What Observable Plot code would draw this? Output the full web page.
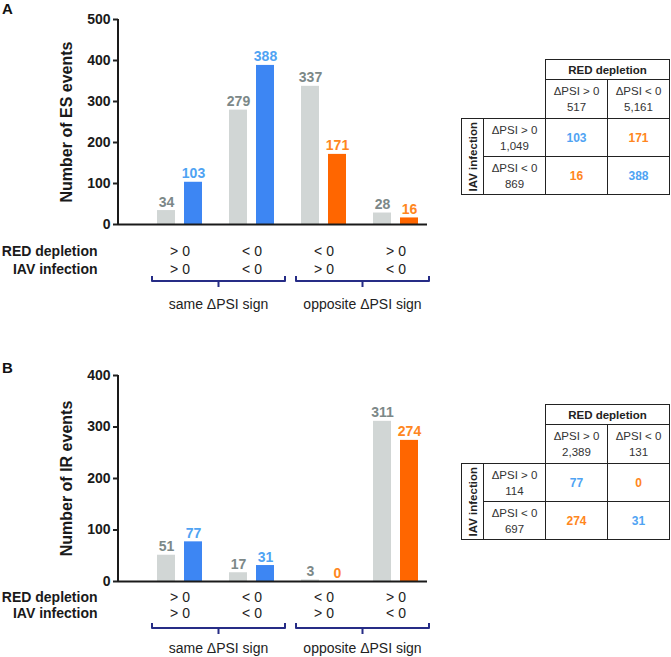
<!DOCTYPE html>
<html><head><meta charset="utf-8">
<script src="https://cdn.jsdelivr.net/npm/d3@7"></script>
<script src="https://cdn.jsdelivr.net/npm/@observablehq/plot@0.6"></script>
<style>
body{margin:0;background:#fff;font-family:"Liberation Sans",Arial,Helvetica,sans-serif;}
#root{position:relative;width:671px;height:657px;overflow:hidden;background:#fff;}
.panel{position:absolute;left:0;}
.letter{position:absolute;font-weight:bold;font-size:15px;color:#111;line-height:1;}
.pl [aria-label^="y-axis"] line,.pl [aria-label^="y-axis"] path{stroke-width:2px;stroke:#222;}
table.ct{position:absolute;border-collapse:collapse;table-layout:fixed;font-size:11.5px;color:#333;}
table.ct td{border:1.5px solid #222;text-align:center;vertical-align:middle;padding:0;line-height:16px;}
table.ct td.blank{border:none;}
table.ct td.hd{font-weight:bold;font-size:11.5px;color:#222;}
table.ct td.val{font-weight:bold;font-size:12px;}
table.ct td.vert div{writing-mode:vertical-rl;transform:rotate(180deg);font-weight:bold;font-size:11.5px;color:#222;margin:auto;white-space:nowrap;}
</style></head>
<body><div id="root"></div>
<script>
// ---- data ----
const groups = ["g1", "g2", "g3", "g4"];
const redSign = ["> 0", "< 0", "< 0", "> 0"];
const iavSign = ["> 0", "< 0", "> 0", "< 0"];
const rowLabels = ["RED depletion", "IAV infection"];
const braceLabels = ["same \u0394PSI sign", "opposite \u0394PSI sign"];
// Panel A (ES events)
const esGray = [34, 279, 337, 28];
const esOverlap = [103, 388, 171, 16];
const esRedTotals = ["517", "5,161"];
const esIavTotals = ["1,049", "869"];
// Panel B (IR events)
const irGray = [51, 17, 3, 311];
const irOverlap = [77, 31, 0, 274];
const irRedTotals = ["2,389", "131"];
const irIavTotals = ["114", "697"];
const signs = ["> 0", "< 0"];

const C = {gray: "#d1d6d5", grayText: "#7c8888", blue: "#3d86f3", blueText: "#4fa3f3", orange: "#ff6600", orangeText: "#ff8620", navy: "#262c86"};
const FONT = '"Liberation Sans", Arial, Helvetica, sans-serif';
const root = document.getElementById("root");

function makePanel(o) {
  const data = groups.map((g, i) => ({g, gray: o.gray[i], ov: o.overlap[i], same: redSign[i] === iavSign[i], red: redSign[i], iav: iavSign[i]}));
  const W = 440;
  const chart = Plot.plot({
    width: W, height: o.H,
    marginLeft: 118, marginRight: W - 427, marginTop: o.marginTop, marginBottom: o.H - o.baseline,
    className: "pl",
    x: {domain: groups, axis: null, paddingInner: 0.378, paddingOuter: 0.326, align: 0.81},
    y: {domain: [0, o.yMax], ticks: o.yMax / 100, tickSize: 5, tickPadding: 3, label: null},
    style: {fontFamily: FONT, fontSize: "14px", fontWeight: "bold", color: "#1a1a1a", background: "transparent", overflow: "visible"},
    marks: [
      Plot.barY(data, {x: "g", y: "gray", fill: C.gray, insetRight: 27}),
      Plot.barY(data, {filter: d => d.same, x: "g", y: "ov", fill: C.blue, insetLeft: 27}),
      Plot.barY(data, {filter: d => !d.same, x: "g", y: "ov", fill: C.orange, insetLeft: 27}),
      Plot.ruleY([0], {stroke: "#1a1a1a", strokeWidth: 2}),
      Plot.text(data, {x: "g", y: "gray", text: d => String(d.gray), dx: -13.5, dy: -4, lineAnchor: "bottom", fill: C.grayText, fontWeight: "bold", fontSize: 14}),
      Plot.text(data, {filter: d => d.same, x: "g", y: "ov", text: d => String(d.ov), dx: 13.5, dy: -4, lineAnchor: "bottom", fill: C.blueText, fontWeight: "bold", fontSize: 14}),
      Plot.text(data, {filter: d => !d.same, x: "g", y: "ov", text: d => String(d.ov), dx: 13.5, dy: -4, lineAnchor: "bottom", fill: C.orangeText, fontWeight: "bold", fontSize: 14}),
      Plot.text(data, {x: "g", frameAnchor: "bottom", text: "red", dy: o.dy1, lineAnchor: "middle", fontWeight: "normal", fontSize: 14, fill: "#222"}),
      Plot.text(data, {x: "g", frameAnchor: "bottom", text: "iav", dy: o.dy2, lineAnchor: "middle", fontWeight: "normal", fontSize: 14, fill: "#222"}),
      Plot.text([rowLabels[0]], {frameAnchor: "bottom-left", textAnchor: "end", dx: -21, dy: o.dy1, lineAnchor: "middle", fontWeight: "bold", fontSize: 14, fill: "#1a1a1a"}),
      Plot.text([rowLabels[1]], {frameAnchor: "bottom-left", textAnchor: "end", dx: -21, dy: o.dy2, lineAnchor: "middle", fontWeight: "bold", fontSize: 14, fill: "#1a1a1a"}),
      Plot.text([o.yLabel], {frameAnchor: "left", textAnchor: "middle", lineAnchor: "middle", rotate: -90, dx: -52, fontWeight: "bold", fontSize: 16, fill: "#1a1a1a"})
    ]
  });
  const svgEl = chart.tagName.toLowerCase() === "svg" ? chart : chart.querySelector("svg");
  const svg = d3.select(svgEl);
  const sx = chart.scale("x"), sy = chart.scale("y");
  const bw = sx.bandwidth;
  const yApply = v => sy.apply(v);
  const xApply = v => sx.apply(v);
  // y axis line
  svg.append("line").attr("x1", sx.range[0]).attr("x2", sx.range[0])
    .attr("y1", yApply(0) + 1).attr("y2", yApply(o.yMax))
    .attr("stroke", "#1a1a1a").attr("stroke-width", 2);
  // braces
  const yb = o.baseline + o.dyBrace;
  [[0, 1], [2, 3]].forEach((pair, k) => {
    const left = xApply(groups[pair[0]]) - 5;
    const right = xApply(groups[pair[1]]) + bw + 11;
    const mid = (left + right) / 2;
    svg.append("path")
      .attr("d", `M${left},${yb - 5}L${left},${yb}L${right},${yb}L${right},${yb - 5}M${mid},${yb}L${mid},${yb + 6}`)
      .attr("fill", "none").attr("stroke", C.navy).attr("stroke-width", 2).attr("stroke-linejoin", "round");
    svg.append("text").attr("x", mid).attr("y", o.baseline + o.dyText).attr("dy", "0.35em")
      .attr("text-anchor", "middle").attr("font-weight", "normal").attr("font-size", 14).attr("fill", "#222")
      .text(braceLabels[k]);
  });
  const wrap = document.createElement("div");
  wrap.className = "panel";
  wrap.style.top = o.top + "px";
  wrap.appendChild(chart);
  root.appendChild(wrap);
}

function cellValue(overlap, redIdx, iavIdx) {
  const i = groups.findIndex((g, j) => redSign[j] === signs[redIdx] && iavSign[j] === signs[iavIdx]);
  return {v: overlap[i], same: redSign[i] === iavSign[i]};
}

function makeTable(o) {
  const t = document.createElement("table");
  t.className = "ct";
  t.style.left = o.left + "px";
  t.style.top = o.top + "px";
  let html = '<colgroup><col style="width:22px"><col style="width:62px"><col style="width:62px"><col style="width:62px"></colgroup>';
  html += '<tr style="height:20px"><td class="blank" colspan="2" rowspan="2"></td><td class="hd" colspan="2">RED depletion</td></tr>';
  html += '<tr style="height:39px">' + signs.map((s, j) => `<td>\u0394PSI ${s.replace(">", "&gt;").replace("<", "&lt;")}<br>${o.redTotals[j]}</td>`).join("") + '</tr>';
  signs.forEach((s, r) => {
    html += '<tr style="height:38px">';
    if (r === 0) html += '<td class="vert" rowspan="2"><div>IAV infection</div></td>';
    html += `<td>\u0394PSI ${s.replace(">", "&gt;").replace("<", "&lt;")}<br>${o.iavTotals[r]}</td>`;
    signs.forEach((s2, c) => {
      const cv = cellValue(o.overlap, c, r);
      html += `<td class="val" style="color:${cv.same ? C.blueText : C.orangeText}">${cv.v}</td>`;
    });
    html += '</tr>';
  });
  t.innerHTML = html;
  root.appendChild(t);
}

function letter(txt, x, y) {
  const d = document.createElement("div");
  d.className = "letter"; d.textContent = txt;
  d.style.left = x + "px"; d.style.top = y + "px";
  root.appendChild(d);
}

makePanel({top: 0, H: 330, marginTop: 19, baseline: 224, yMax: 500, gray: esGray, overlap: esOverlap, yLabel: "Number of ES events", dy1: 27, dy2: 45, dyBrace: 57, dyText: 80});
makePanel({top: 330, H: 327, marginTop: 45, baseline: 251, yMax: 400, gray: irGray, overlap: irOverlap, yLabel: "Number of IR events", dy1: 16, dy2: 32.5, dyBrace: 47, dyText: 67});
makeTable({left: 461, top: 59, overlap: esOverlap, redTotals: esRedTotals, iavTotals: esIavTotals});
makeTable({left: 461, top: 404, overlap: irOverlap, redTotals: irRedTotals, iavTotals: irIavTotals});
letter("A", 2, 1);
letter("B", 2, 360);
</script>
</body></html>
